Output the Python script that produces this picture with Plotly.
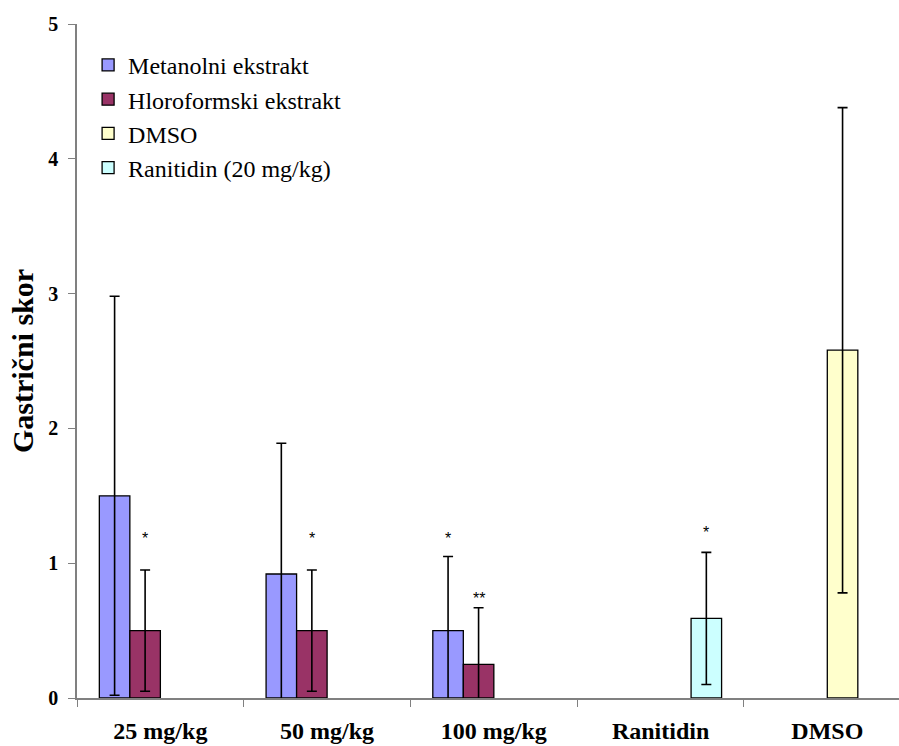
import plotly.graph_objects as go

categories = ["25 mg/kg", "50 mg/kg", "100 mg/kg", "Ranitidin", "DMSO"]
series_names = ["Metanolni ekstrakt", "Hloroformski ekstrakt", "DMSO", "Ranitidin (20 mg/kg)"]

metanolni = [1.5, 0.92, 0.5, None, None]
metanolni_err = [1.48, 0.97, 0.55, 0, 0]
hloroformski = [0.5, 0.5, 0.25, None, None]
hloroformski_err = [0.45, 0.45, 0.42, 0, 0]
dmso = [None, None, None, None, 2.58]
dmso_err = [0, 0, 0, 0, 1.8]
ranitidin = [None, None, None, 0.59, None]
ranitidin_err = [0, 0, 0, 0.49, 0]

colors = ["#9999FF", "#993366", "#FFFFCC", "#CCFFFF"]

sig_labels = ["*", "*", "*", "**", "*"]
sig_category = [0, 1, 2, 2, 3]
sig_series = [1, 1, 0, 1, 3]
sig_y = [1.21, 1.21, 1.21, 0.77, 1.26]

y_ticks = [0, 1, 2, 3, 4, 5]

SERIF = "Liberation Serif, Times New Roman, serif"
BARGAP = 0.268
values = [metanolni, hloroformski, dmso, ranitidin]
errors = [metanolni_err, hloroformski_err, dmso_err, ranitidin_err]

fig = go.Figure()
for name, vals, errs, col in zip(series_names, values, errors, colors):
    fig.add_trace(go.Bar(
        name=name, x=categories, y=vals,
        marker=dict(color=col, line=dict(color="black", width=1.3)),
        error_y=dict(type="data", array=errs, symmetric=True,
                     color="black", thickness=1.6, width=5),
    ))

n_series = len(series_names)
slot_w = (1 - BARGAP) / n_series
for lab, ci, si, yy in zip(sig_labels, sig_category, sig_series, sig_y):
    xpos = ci - (1 - BARGAP) / 2 + (si + 0.5) * slot_w
    fig.add_annotation(x=xpos, y=yy, xref="x", yref="y", text=lab,
                       showarrow=False, yanchor="middle", yshift=-4,
                       font=dict(family="Liberation Sans, Arial", size=16, color="black"))

fig.update_layout(
    width=899, height=746,
    margin=dict(l=77, r=0, t=24, b=48),
    paper_bgcolor="white", plot_bgcolor="white",
    barmode="group", bargap=BARGAP, bargroupgap=0,
    font=dict(family=SERIF, color="black"),
    showlegend=True,
    legend=dict(x=0.0135, y=0.972, xanchor="left", yanchor="top",
                font=dict(family=SERIF, size=24, color="black"),
                bgcolor="rgba(0,0,0,0)", borderwidth=0,
                tracegroupgap=0),
    xaxis=dict(type="category", range=[-0.5, 4.43], showline=True, automargin=False,
               linecolor="#808080", linewidth=1.5, ticks="outside", tickson="boundaries",
               ticklen=7, tickcolor="#808080", tickwidth=1.2,
               ticklabelstandoff=10,
               tickfont=dict(family=SERIF, size=24, color="black", weight="bold"),
               showgrid=False, zeroline=False),
    yaxis=dict(range=[0, 5], tickvals=y_ticks, showline=True, automargin=False,
               linecolor="#808080", linewidth=1.5, ticks="outside",
               ticklen=7, tickcolor="#808080", tickwidth=1.2,
               ticklabelstandoff=6,
               tickfont=dict(family=SERIF, size=20, color="black", weight="bold"),
               title=dict(text="Gastrični skor", standoff=6,
                          font=dict(family=SERIF, size=30, color="black", weight="bold")),
               showgrid=False, zeroline=False),
)

fig.write_html("out.html", config={"displayModeBar": False},
               post_script="document.body.style.margin='0';document.body.style.overflow='hidden';")
